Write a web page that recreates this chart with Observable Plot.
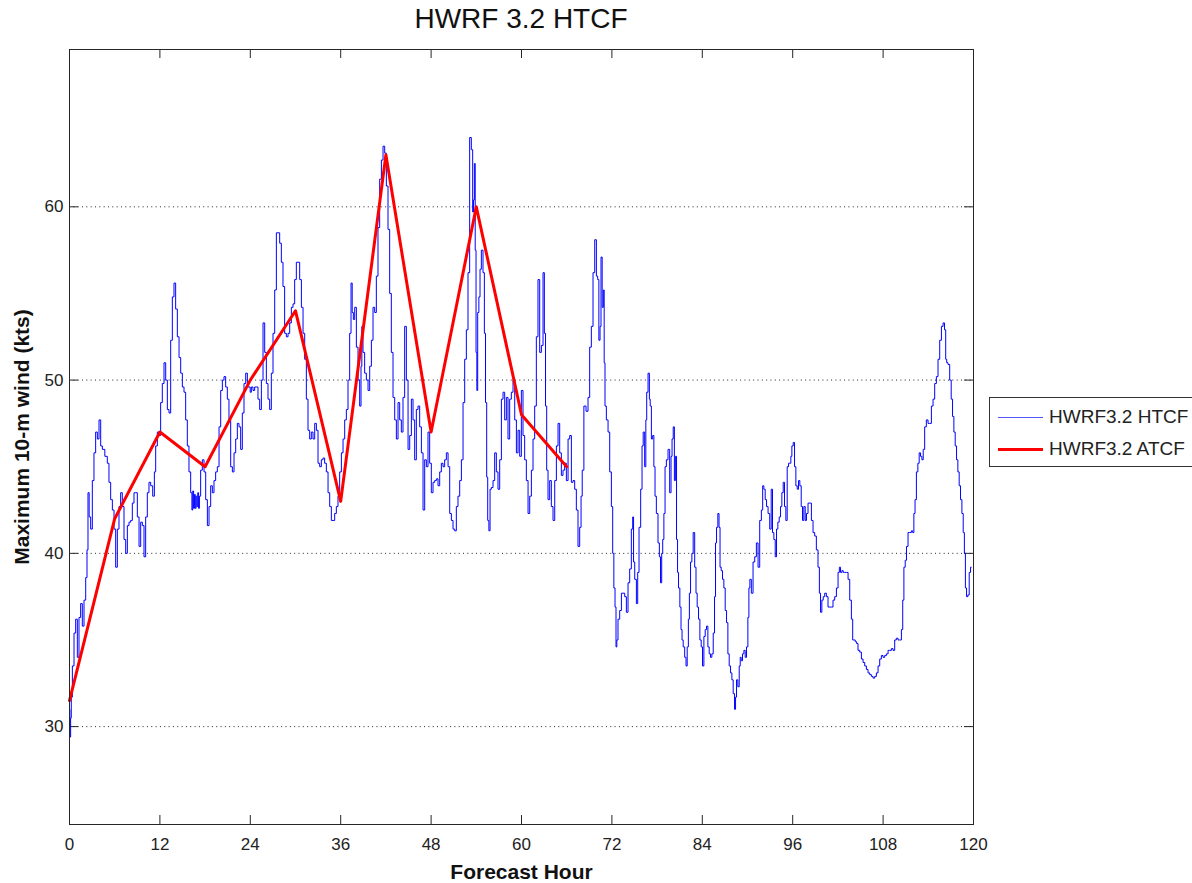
<!DOCTYPE html>
<html><head><meta charset="utf-8">
<script src="https://cdn.jsdelivr.net/npm/d3@7"></script>
<script src="https://cdn.jsdelivr.net/npm/@observablehq/plot@0.6"></script>
<style>
html,body{margin:0;padding:0;background:#fff;}
body{width:1192px;height:883px;overflow:hidden;position:relative;font-family:"Liberation Sans",Arial,Helvetica,sans-serif;}
#title{height:38px;line-height:38px;width:904px;margin-left:69px;text-align:center;font-size:28px;color:#111;}
#legend{position:absolute;left:989px;top:397px;width:240px;height:68px;border:1px solid #333;background:#fff;}
.row{position:absolute;left:8px;height:22px;display:flex;align-items:center;}
.sw{width:45px;margin-right:6px;}
.lab{font-size:19px;color:#222;white-space:nowrap;}
</style></head><body>
<div id="title">HWRF 3.2 HTCF</div>
<div id="chart"></div>
<div id="legend">
  <div class="row" style="top:8px"><div class="sw" style="border-top:1.5px solid #5555ff"></div><span class="lab">HWRF3.2 HTCF</span></div>
  <div class="row" style="top:40px"><div class="sw" style="border-top:3px solid #ff0000"></div><span class="lab">HWRF3.2 ATCF</span></div>
</div>
<script>
const xTicks = [0, 12, 24, 36, 48, 60, 72, 84, 96, 108, 120];
const yTicks = [30, 40, 50, 60];

const atcfHours = [0, 6, 12, 18, 24, 30, 36, 42, 48, 54, 60, 66];
const atcfWind = [31.5, 42, 47, 45, 50, 54, 43, 63, 47, 60, 48, 45];

const htcfHours = [
0.00,0.10,0.20,0.27,0.49,0.71,0.93,1.15,1.37,1.59,1.81,2.04,2.26,2.39,2.52,2.70,2.92,3.14,3.36,3.58,3.81,4.03,4.25,4.47,4.91,
5.13,5.35,5.58,5.80,6.02,6.24,6.46,6.68,6.90,7.12,7.35,7.57,7.79,8.01,8.23,8.45,8.67,8.89,9.12,9.34,9.56,9.78,10.00,10.22,10.44,
10.66,10.89,11.20,11.33,11.55,11.77,11.99,12.21,12.43,12.66,12.88,13.10,13.32,13.54,13.76,13.98,14.20,14.43,14.65,14.87,15.09,15.31,15.53,15.75,15.97,
16.20,16.30,16.42,16.53,16.64,16.75,16.86,16.97,17.08,17.19,17.30,17.52,17.74,17.97,18.19,18.41,18.63,18.85,19.07,19.29,19.51,19.74,19.96,20.18,20.40,20.62,20.84,21.06,21.28,21.51,
21.73,21.95,22.17,22.39,22.61,22.83,23.05,23.28,23.50,23.72,23.94,
24.03,24.25,24.47,24.69,24.91,25.13,25.36,25.58,25.80,26.02,26.24,26.46,26.68,26.90,27.13,27.35,27.57,27.79,28.01,28.23,28.45,28.67,28.90,29.12,29.34,
29.56,29.78,30.00,30.22,30.44,30.67,30.89,31.11,31.33,31.55,31.77,31.99,32.21,32.44,32.66,32.88,33.10,33.32,33.54,33.76,33.98,34.21,34.43,34.65,34.87,
35.09,35.31,35.53,35.75,35.98,36.20,36.42,36.64,36.86,37.08,37.30,37.44,37.61,37.75,37.97,38.19,38.41,38.63,38.76,38.85,39.07,39.29,39.52,39.74,39.96,
40.18,40.40,40.62,40.84,41.06,41.29,41.51,41.73,41.95,42.17,42.39,42.61,42.83,43.06,43.28,43.50,43.72,43.94,44.16,44.38,44.60,44.83,45.05,45.27,45.49,
45.71,45.93,46.15,46.37,46.60,46.82,47.04,47.26,47.48,47.70,
47.92,48.14,48.37,48.59,48.81,49.03,49.25,49.47,49.69,49.91,50.14,50.36,50.58,50.80,51.02,51.24,51.46,51.68,51.91,52.13,52.35,52.57,52.79,53.01,53.23,
53.45,53.59,53.68,53.81,53.90,54.03,54.12,54.25,54.43,54.56,54.78,55.00,55.14,55.31,55.45,55.58,55.76,55.89,56.11,56.33,56.55,56.77,56.99,57.22,57.44,
57.66,57.88,58.10,58.32,58.54,58.76,58.99,59.21,59.43,59.65,59.87,60.09,60.31,60.53,60.76,60.98,61.20,61.42,61.64,61.86,62.08,62.30,62.53,62.75,62.97,
63.10,63.28,63.41,63.63,63.85,64.07,64.30,64.52,64.74,64.96,65.18,65.40,65.62,65.84,66.07,66.29,66.51,66.73,66.95,67.17,67.39,67.61,67.84,67.97,68.15,
68.41,68.72,68.94,69.16,69.38,69.61,69.83,70.05,70.18,70.36,70.49,70.62,70.80,70.93,
71.02,71.15,71.38,71.60,71.82,72.04,72.17,72.35,72.48,72.61,72.70,72.92,73.15,73.37,73.59,73.81,74.03,74.25,74.47,74.69,74.83,74.92,75.14,75.36,75.49,
75.71,75.93,76.07,76.24,76.46,76.55,76.69,76.91,77.04,77.13,77.35,77.48,77.66,77.79,78.01,78.23,78.37,78.54,78.68,78.81,78.99,79.12,79.34,79.56,79.78,
79.92,80.05,80.23,80.36,80.49,80.67,80.76,80.93,81.11,81.24,81.38,81.55,81.77,81.91,82.08,82.22,82.35,82.53,82.70,82.88,83.10,83.23,83.41,83.59,83.77,
83.94,84.12,84.30,84.47,84.65,84.83,85.00,85.18,85.36,85.54,85.71,85.80,85.98,86.15,86.29,86.42,86.60,86.77,86.95,87.13,87.31,87.48,87.66,87.84,88.01,
88.19,88.37,88.46,88.63,88.81,88.99,89.08,89.25,89.43,89.61,89.78,89.96,90.14,90.23,90.40,90.62,90.85,91.07,91.29,91.51,91.73,91.95,92.08,92.26,92.44,
92.62,92.84,93.06,93.23,93.41,93.59,93.77,93.94,94.12,94.30,94.47,94.65,94.83,95.00,95.18,95.36,95.54,95.71,
95.80,95.98,96.16,96.33,96.51,96.69,96.86,97.04,97.22,97.39,97.57,97.75,97.92,98.15,98.37,98.59,98.81,99.03,99.25,99.47,99.61,99.78,99.96,100.14,100.36,
100.58,100.80,101.02,101.24,101.46,101.69,101.91,102.13,102.26,102.44,102.62,102.79,103.01,103.24,103.46,103.68,103.90,104.03,104.21,104.39,104.56,104.78,105.01,105.23,105.45,
105.67,105.89,106.11,106.33,106.55,106.78,107.00,107.22,107.44,107.66,107.88,108.10,108.32,108.55,108.77,108.99,109.21,109.43,109.65,109.87,110.09,110.32,110.54,110.67,110.85,
111.02,111.20,111.42,111.64,111.86,112.00,112.17,112.31,112.53,112.70,112.88,113.06,113.24,113.41,113.63,113.85,114.08,114.30,114.52,114.74,114.96,115.18,115.40,115.63,115.85,
116.07,116.24,116.38,116.51,116.73,116.95,117.13,117.31,117.48,117.66,117.84,118.01,118.19,118.37,118.55,118.72,118.86,118.99,119.17,119.34,119.52,119.70,119.83
];
const htcfWind = [
31.0,29.4,30.5,31.7,33.5,35.4,36.2,34.0,36.3,37.1,35.8,37.3,38.6,40.2,43.5,42.1,41.4,44.2,45.8,47.0,46.6,47.7,46.2,46.0,45.6,
45.2,44.1,43.1,42.5,41.4,39.2,41.4,42.7,43.5,42.7,40.8,40.0,41.6,41.8,41.9,42.9,43.5,43.5,42.1,40.4,41.8,41.6,39.8,42.1,43.5,
44.1,43.9,43.3,44.7,46.2,47.0,46.8,48.7,49.8,51.0,50.0,48.3,48.1,52.3,54.8,55.6,54.1,52.5,51.3,50.4,49.6,49.3,47.7,46.2,44.7,
43.5,42.5,43.6,42.6,43.4,42.6,43.3,42.7,43.5,42.6,43.3,44.8,45.4,44.7,43.1,41.6,42.7,43.9,43.5,44.2,44.7,45.0,47.3,49.4,50.0,50.2,49.6,48.9,47.7,
45.0,44.7,45.8,46.6,47.5,47.3,46.0,48.1,49.8,50.4,49.6,
49.6,49.3,49.6,49.4,49.6,49.6,48.9,48.3,50.0,53.3,51.6,49.8,48.9,48.3,50.4,52.7,55.2,58.5,58.5,57.9,56.8,55.4,52.7,52.5,52.7,
53.3,54.2,54.4,55.8,56.8,56.8,55.8,54.2,52.7,51.2,48.9,47.1,46.6,47.0,46.6,47.5,47.1,45.2,45.0,45.4,45.5,45.2,44.7,43.5,42.7,
41.9,41.9,42.3,42.7,43.3,44.7,45.8,46.6,47.7,48.3,50.0,52.7,55.6,53.9,53.5,54.2,51.9,50.0,48.5,50.8,53.1,51.6,50.4,50.0,49.4,
50.8,52.3,54.2,53.9,56.0,58.8,61.6,62.7,63.5,63.1,61.2,58.7,55.0,51.6,49.0,47.7,46.6,48.7,47.7,47.0,49.0,53.1,50.0,46.0,46.8,
48.9,47.7,45.4,48.3,48.5,47.3,45.8,42.5,45.4,45.0,
47.0,45.2,43.5,44.1,44.2,44.3,43.9,44.7,45.2,45.0,45.4,45.8,45.0,42.3,41.9,41.4,41.3,42.7,43.3,44.2,45.4,48.7,51.2,52.9,56.2,
64.0,63.3,59.7,60.4,62.5,57.5,51.6,49.4,53.9,54.8,56.4,57.5,56.2,52.7,48.7,44.4,41.9,41.3,43.7,43.8,44.2,45.8,44.7,43.7,45.4,
48.9,49.3,47.7,49.0,46.6,48.9,49.3,50.0,47.7,45.8,47.1,45.6,49.4,46.8,45.4,44.2,42.3,43.3,44.8,46.6,48.5,52.5,55.8,51.6,52.0,
56.2,52.7,48.5,44.8,43.1,44.2,42.7,41.9,44.2,46.2,47.5,45.8,44.5,44.8,45.2,44.2,46.6,46.8,44.1,44.2,43.7,42.5,40.4,41.5,43.3,
44.8,48.5,48.2,49.0,51.9,53.1,56.2,58.1,56.0,55.8,52.3,53.1,57.1,54.2,
55.2,51.0,48.5,47.7,47.0,44.7,42.7,40.0,38.0,36.9,34.6,35.0,36.2,36.7,37.7,37.7,37.5,36.6,38.3,39.1,41.4,42.1,39.5,38.5,37.1,
38.9,41.5,43.7,46.2,47.0,45.0,47.7,49.3,50.4,48.9,48.5,46.6,46.8,45.0,43.3,42.3,40.6,39.8,38.3,40.0,40.8,42.3,45.0,45.4,46.0,
43.5,45.6,46.6,47.3,44.2,45.6,40.8,38.9,38.0,36.9,35.6,35.0,34.6,34.0,33.5,34.6,36.2,37.7,39.5,40.0,41.2,39.2,37.7,36.9,36.2,
35.0,34.6,33.5,35.2,35.6,35.8,34.6,34.2,34.0,34.2,35.4,37.5,40.6,41.5,42.3,41.5,39.2,39.0,38.5,38.0,36.7,36.0,34.2,33.5,33.1,
32.7,31.9,31.0,31.7,32.7,32.3,33.5,34.0,33.8,34.2,34.4,34.0,34.6,36.3,38.0,38.5,37.7,39.5,39.8,40.6,39.2,41.9,42.5,43.9,43.7,
43.1,42.7,42.3,41.4,43.7,41.2,40.8,39.8,41.4,41.8,42.1,42.7,43.5,44.1,42.7,41.9,45.0,45.2,
45.2,45.6,46.2,46.4,45.0,43.9,43.7,44.2,43.9,42.7,41.9,42.7,41.9,42.3,42.9,42.9,41.9,41.2,41.0,40.2,39.2,37.7,36.6,37.3,37.5,
37.7,37.5,36.9,36.9,36.9,37.3,37.5,38.0,38.9,39.2,38.9,39.0,38.9,38.9,38.9,38.5,37.3,36.2,35.0,35.0,34.9,34.8,34.4,34.3,33.9,
33.7,33.5,33.3,33.1,33.0,32.9,32.8,32.9,33.1,33.5,33.9,34.1,34.0,34.1,34.2,34.4,34.4,34.5,34.4,35.0,35.1,35.0,35.0,35.6,37.3,
39.2,39.6,40.4,41.2,41.2,41.3,41.2,42.3,43.1,44.7,45.2,45.8,45.6,45.4,46.0,47.3,47.7,47.5,47.5,48.5,48.9,49.8,50.2,51.2,52.3,
53.1,53.3,52.9,51.2,51.0,50.9,50.0,48.9,47.9,47.0,46.2,45.4,44.7,43.9,43.1,42.3,41.2,40.0,38.0,37.5,37.6,38.9,39.2
];

const htcf = htcfHours.map((h, i) => ({hour: h, wind: htcfWind[i]}));
const atcf = atcfHours.map((h, i) => ({hour: h, wind: atcfWind[i]}));

const W = 1192, H = 845;
const mT = 11, mB = 59, mL = 69, mR = 219;
const innerW = W - mL - mR, innerH = H - mT - mB;
const tickLen = 9;
const ink = "#262626";

const chart = Plot.plot({
  width: W, height: H,
  marginTop: mT, marginBottom: mB, marginLeft: mL, marginRight: mR,
  style: {fontFamily: '"Liberation Sans", Arial, Helvetica, sans-serif', fontSize: "17px", color: "#222", background: "#fff"},
  x: {domain: [0, 120], label: null},
  y: {domain: [24.35, 69.08], label: null},
  marks: [
    Plot.gridY(yTicks, {stroke: ink, strokeOpacity: 1, strokeWidth: 1, strokeDasharray: "1,3.33"}),
    Plot.tickX(xTicks, {x: d => d, stroke: ink, insetTop: innerH - tickLen}),
    Plot.tickX(xTicks, {x: d => d, stroke: ink, insetBottom: innerH - tickLen}),
    Plot.tickY(yTicks, {y: d => d, stroke: ink, insetRight: innerW - tickLen}),
    Plot.tickY(yTicks, {y: d => d, stroke: ink, insetLeft: innerW - tickLen}),
    Plot.axisX(xTicks, {anchor: "bottom", tickSize: 0, tickPadding: 13, label: null, fontSize: 17}),
    Plot.axisY(yTicks, {anchor: "left", tickSize: 0, tickPadding: 6, label: null, fontSize: 17}),
    Plot.lineY(htcf, {x: "hour", y: "wind", stroke: "#0000ff", strokeWidth: 1, curve: "step"}),
    Plot.lineY(atcf, {x: "hour", y: "wind", stroke: "#ff0000", strokeWidth: 3}),
    Plot.frame({stroke: ink, strokeWidth: 1}),
    Plot.text(["Forecast Hour"], {text: d => d, frameAnchor: "bottom", dy: 48, lineAnchor: "middle", textAnchor: "middle", fontWeight: "bold", fontSize: 21, fill: "#111"}),
    Plot.text(["Maximum 10-m wind (kts)"], {text: d => d, frameAnchor: "left", rotate: -90, dx: -47, textAnchor: "middle", lineAnchor: "middle", fontWeight: "bold", fontSize: 21, fill: "#111"})
  ]
});
document.getElementById("chart").appendChild(chart);
</script>
</body></html>
